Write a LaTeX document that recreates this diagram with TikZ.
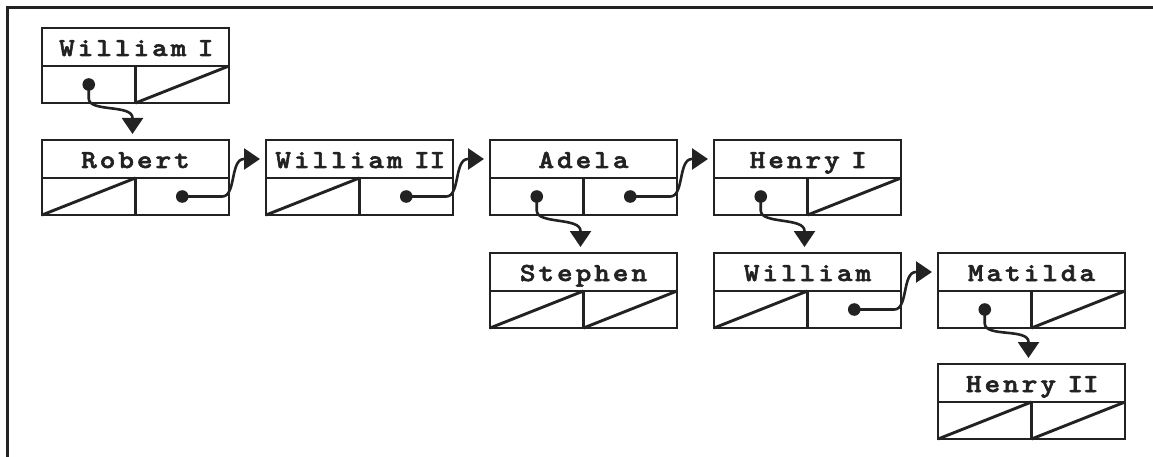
\documentclass[tikz,border=0pt]{standalone}
\usepackage{fontspec}
\newfontfamily\lblfont{lmmonolt10-bold.otf}[FakeStretch=1.15, FakeBold=2.2]
\usetikzlibrary{arrows.meta,calc}
\definecolor{ink}{RGB}{34,34,34}
\ExplSyntaxOn
\NewDocumentCommand\spacedlbl{m}{
  \str_map_inline:nn {#1}
    {
      \str_if_eq:nnTF {##1} {~}
        { \hspace*{10pt} }
        {
          \str_if_eq:nnTF {##1} {I}
            { \makebox[15.5pt][c]{##1} }
            { \makebox[18.6pt][c]{##1} }
        }
    }
}
\ExplSyntaxOff
\tikzset{
  hdr/.style={draw=ink, line width=2.9pt, minimum width=187pt, minimum height=38pt,
    inner sep=0pt, outer sep=0pt, text height=18pt, text depth=0pt,
    font=\lblfont\fontsize{26}{26}\selectfont, text=ink},
  cellbox/.style={draw=ink, line width=2.9pt, minimum width=93.5pt, minimum height=37pt,
    inner sep=0pt, outer sep=0pt},
  nullslash/.style={draw=ink, line width=2.9pt},
  ptr/.style={draw=ink, line width=2.6pt, -{Triangle[length=16pt,width=21pt]}},
  dotmark/.style={fill=ink},
  frameline/.style={draw=ink, line width=3pt}
}
\newcommand\personbox[4]{%
  \node[hdr, anchor=north west] (#1) at (#2,#3) {\spacedlbl{#4}};
  \node[cellbox, anchor=north west] (#1-l) at (#1.south west) {};
  \node[cellbox, anchor=north east] (#1-r) at (#1.south east) {};
}
\newcommand\nullcell[1]{\draw[nullslash] (#1.south west) -- (#1.north east);}
\newcommand\rightptr[2]{%
  \fill[dotmark] (#1.center) circle (6.3pt);
  \draw[ptr] (#1.center) -- ++(40,0) .. controls +(14,0) and +(-14,0) ..
    ($(#2.west)+(-22,0)$) -- ($(#2.west)+(-6,0)$);
}
\newcommand\downptr[2]{%
  \fill[dotmark] (#1.center) circle (6.3pt);
  \draw[ptr] (#1.center) -- ++(0,14) .. controls +(0,14) and +(0,-14) ..
    ($(#2.north)+(-3,-22)$) -- ($(#2.north)+(-3,-6)$);
}
\begin{document}
\begin{tikzpicture}[x=1pt, y=-1pt]
\useasboundingbox (0,0) rectangle (1153,457);
\draw[frameline] (7.5,457) -- (7.5,7.5) -- (1153,7.5);

\personbox{w1}{42}{28}{William I}
\personbox{rob}{42}{140}{Robert}
\personbox{w2}{266}{140}{William II}
\personbox{ade}{490}{140}{Adela}
\personbox{h1}{714}{140}{Henry I}
\personbox{ste}{490}{253}{Stephen}
\personbox{wil}{714}{253}{William}
\personbox{mat}{938}{253}{Matilda}
\personbox{h2}{938}{364}{Henry II}

\nullcell{w1-r}
\nullcell{rob-l}
\nullcell{w2-l}
\nullcell{h1-r}
\nullcell{ste-l}
\nullcell{ste-r}
\nullcell{wil-l}
\nullcell{mat-r}
\nullcell{h2-l}
\nullcell{h2-r}

\downptr{w1-l}{rob}
\rightptr{rob-r}{w2}
\rightptr{w2-r}{ade}
\rightptr{ade-r}{h1}
\downptr{ade-l}{ste}
\downptr{h1-l}{wil}
\rightptr{wil-r}{mat}
\downptr{mat-l}{h2}
\end{tikzpicture}
\end{document}
